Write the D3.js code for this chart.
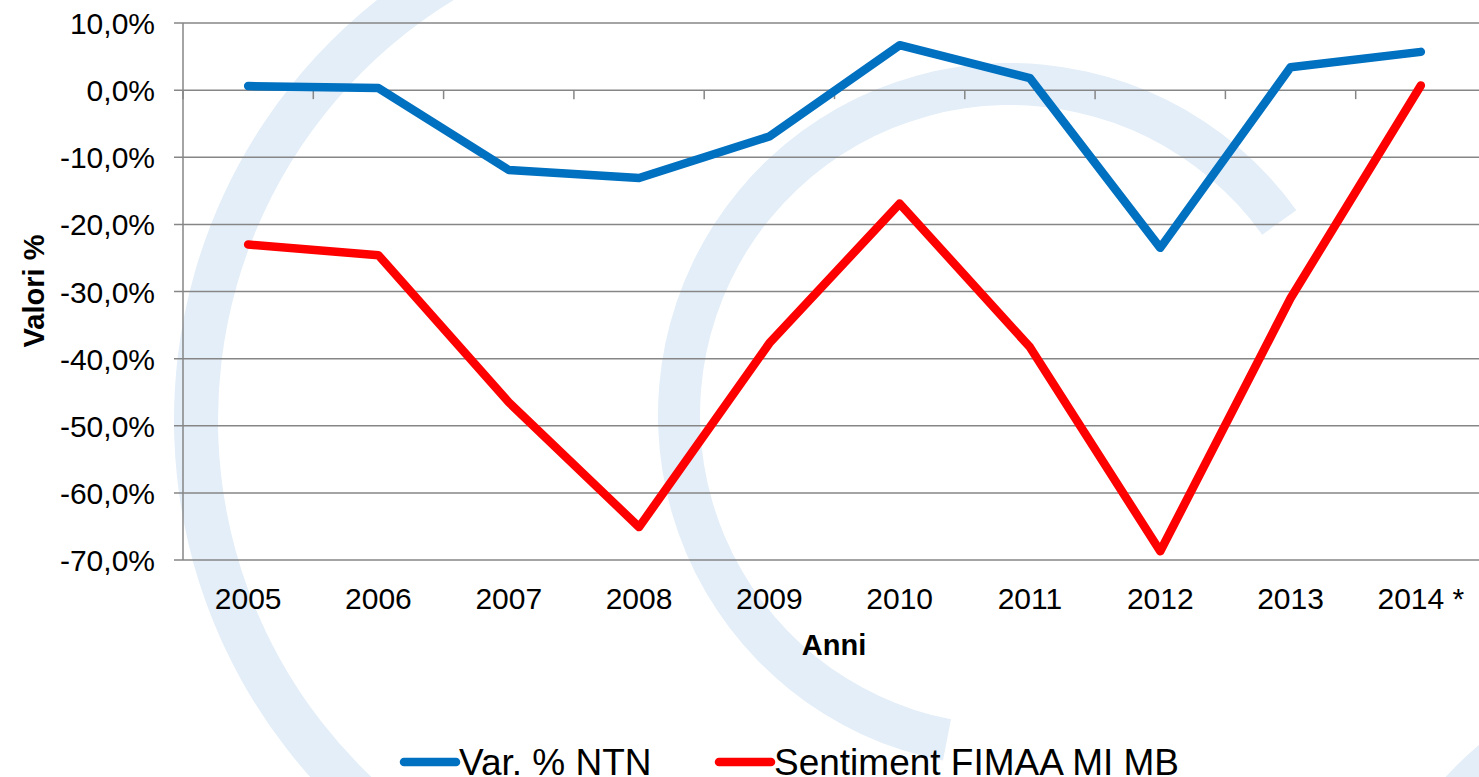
<!DOCTYPE html>
<html>
<head>
<meta charset="utf-8">
<script src="https://cdn.jsdelivr.net/npm/d3@7"></script>
<style>
  body { margin: 0; background: #fff; }
  svg { display: block; font-family: Arial, "Liberation Sans", sans-serif; }
</style>
</head>
<body>
<div id="chart"></div>
<script>
const years = ['2005', '2006', '2007', '2008', '2009', '2010', '2011', '2012', '2013', '2014 *'];
const varNtn = [0.6, 0.3, -11.9, -13.1, -6.9, 6.7, 1.8, -23.5, 3.4, 5.7];
const sentiment = [-23.0, -24.6, -46.5, -65.1, -37.7, -16.9, -38.3, -68.7, -31.0, 0.7];
const yTicks = [10, 0, -10, -20, -30, -40, -50, -60, -70];
const seriesNames = ['Var. % NTN', 'Sentiment FIMAA MI MB'];
const seriesColors = ['#0070C0', '#FF0000'];

const width = 1479;
const height = 777;
const margin = { top: 23, right: -7, bottom: 217, left: 183 };

const svg = d3.select('#chart')
  .append('svg')
  .attr('width', width)
  .attr('height', height);

// faint logo watermark behind the chart
const wm = svg.append('g').attr('fill', '#e3eef8');
wm.append('path')
  .attr('transform', 'translate(710,420)')
  .attr('d', d3.arc()({ innerRadius: 492, outerRadius: 536, startAngle: -2.7, endAngle: -0.2 }));
wm.append('path')
  .attr('transform', 'translate(1010,415)')
  .attr('d', d3.arc()({ innerRadius: 310, outerRadius: 352, startAngle: -2.95, endAngle: 0.95 }));
wm.append('path')
  .attr('transform', 'translate(1700,1010)')
  .attr('d', d3.arc()({ innerRadius: 300, outerRadius: 345, startAngle: -1.1, endAngle: -0.5 }));

const x = d3.scaleBand()
  .domain(years)
  .range([margin.left, width - margin.right])
  .padding(0);

const y = d3.scaleLinear()
  .domain([-70, 10])
  .range([height - margin.bottom, margin.top]);

const it = d3.formatLocale({ decimal: ',', thousands: '.', grouping: [3], currency: ['€', ''], minus: '-' });
const fmt = v => it.format('.1f')(v) + '%';

const gridColor = '#868686';

// horizontal grid + y ticks
svg.append('g')
  .selectAll('line')
  .data(yTicks)
  .join('line')
  .attr('x1', margin.left - 9)
  .attr('x2', width)
  .attr('y1', d => y(d))
  .attr('y2', d => y(d))
  .attr('stroke', gridColor)
  .attr('stroke-width', 1.5);

// y axis line
svg.append('line')
  .attr('x1', margin.left).attr('x2', margin.left)
  .attr('y1', y(10)).attr('y2', y(-70))
  .attr('stroke', gridColor)
  .attr('stroke-width', 1.5);

// x axis ticks at the 0 line
svg.append('g')
  .selectAll('line')
  .data(years)
  .join('line')
  .attr('x1', d => x(d))
  .attr('x2', d => x(d))
  .attr('y1', y(0))
  .attr('y2', y(0) + 9)
  .attr('stroke', gridColor)
  .attr('stroke-width', 1.5);

svg.append('g')
  .selectAll('text')
  .data(yTicks)
  .join('text')
  .attr('x', 155)
  .attr('y', d => y(d) + 11)
  .attr('text-anchor', 'end')
  .attr('font-size', 30)
  .text(d => fmt(d));

svg.append('g')
  .selectAll('text')
  .data(years)
  .join('text')
  .attr('x', d => x(d) + x.bandwidth() / 2)
  .attr('y', 609)
  .attr('text-anchor', 'middle')
  .attr('font-size', 30)
  .text(d => d);

svg.append('text')
  .attr('x', 834)
  .attr('y', 655)
  .attr('text-anchor', 'middle')
  .attr('font-size', 29)
  .attr('font-weight', 'bold')
  .text('Anni');

svg.append('text')
  .attr('transform', 'translate(44,291) rotate(-90)')
  .attr('text-anchor', 'middle')
  .attr('font-size', 29)
  .attr('font-weight', 'bold')
  .text('Valori %');

const line = d3.line()
  .x((d, i) => x(years[i]) + x.bandwidth() / 2)
  .y(d => y(d));

[varNtn, sentiment].forEach((vals, k) => {
  svg.append('path')
    .datum(vals)
    .attr('fill', 'none')
    .attr('stroke', seriesColors[k])
    .attr('stroke-width', 8.5)
    .attr('stroke-linejoin', 'round')
    .attr('stroke-linecap', 'round')
    .attr('d', line);
});

// legend
const legendX = [404, 719];
const legend = svg.append('g')
  .selectAll('g')
  .data(seriesNames)
  .join('g')
  .attr('transform', (d, i) => `translate(${legendX[i]},762)`);

legend.append('line')
  .attr('x1', 0).attr('x2', 52)
  .attr('stroke', (d, i) => seriesColors[i])
  .attr('stroke-width', 8.5)
  .attr('stroke-linecap', 'round');

legend.append('text')
  .attr('x', 55)
  .attr('y', 13)
  .attr('font-size', 37)
  .text(d => d);
</script>
</body>
</html>
